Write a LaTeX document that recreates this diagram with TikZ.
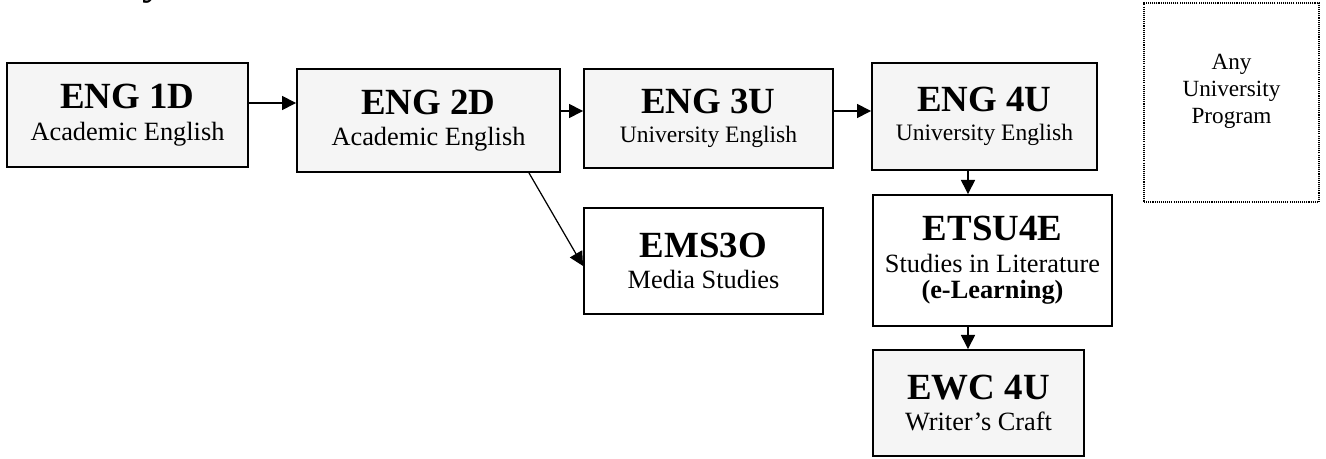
\documentclass[tikz,border=0pt]{standalone}
\usepackage{fontspec}
\setmainfont{Liberation Serif}
\usetikzlibrary{arrows.meta}
\definecolor{coursegray}{RGB}{245,245,245}
\newcommand{\coursecode}[1]{{\fontsize{21}{18}\selectfont\bfseries #1}}

\begin{document}
\begin{tikzpicture}[x=0.02cm,y=-0.02cm,
    course/.style={draw,line width=1.1pt,fill=coursegray,align=center,inner sep=0pt,
      font=\fontsize{15}{18}\selectfont},
    elective/.style={course,fill=white},
    flow/.style={line width=0.8pt,-{Triangle[length=8pt,width=8pt]}}]
    \useasboundingbox (0,0) rectangle (1326,459);

    \node[anchor=base west,inner sep=0pt,font=\fontsize{26}{26}\selectfont] (pathway) at (142,-6) {y};

    \node[course,line width=1.3pt,minimum width=4.82cm,minimum height=2.08cm] (eng1d) at (127.5,115)
        {\coursecode{ENG 1D}\\Academic English};
    \node[course,minimum width=5.26cm,minimum height=2.06cm] (eng2d) at (428.5,120.5)
        {\coursecode{ENG 2D}\\Academic English};
    \node[course,minimum width=4.98cm,minimum height=1.98cm,font=\fontsize{13.4}{16.7}\selectfont] (eng3u) at (708.5,118.5)
        {\coursecode{ENG 3U}\\University English};
    \node[course,minimum width=4.5cm,minimum height=2.14cm,font=\fontsize{13.4}{16.7}\selectfont] (eng4u) at (984.5,116.5)
        {\coursecode{ENG 4U}\\University English};
    \node[elective,minimum width=4.78cm,minimum height=2.12cm] (ems3o) at (703.5,261)
        {\coursecode{EMS3O}\\Media Studies};
    \node[elective,minimum width=4.78cm,minimum height=2.62cm] (etsu4e) at (992.5,260.5)
        {\coursecode{ETSU4E}\\Studies in Literature\\[-3pt]\textbf{(e-Learning)}};
    \node[course,minimum width=4.22cm,minimum height=2.12cm] (ewc4u) at (978.5,403)
        {\coursecode{EWC 4U}\\Writer’s Craft};
    \node[draw,line width=0.7pt,dash pattern=on 0.6pt off 0.6pt,align=center,inner sep=0pt,
        minimum width=3.5cm,minimum height=3.98cm,font=\fontsize{13.2}{15.4}\selectfont] (anyuni) at (1231.5,102.5)
        {Any\\University\\Program\\\mbox{}};

    \draw[flow] (eng1d.east |- 0,103) -- (eng2d.west |- 0,103);
    \draw[flow] (eng2d.east |- 0,111) -- (eng3u.west |- 0,111);
    \draw[flow] (eng3u.east |- 0,111) -- (eng4u.west |- 0,111);
    \draw[flow] (eng4u.south -| 968,0) -- (etsu4e.north -| 968,0);
    \draw[flow] (etsu4e.south -| 968,0) -- (ewc4u.north -| 968,0);
    \draw[flow,line width=0.7pt] (eng2d.south -| 529,0) -- (ems3o.west |- 0,266);
\end{tikzpicture}
\end{document}
